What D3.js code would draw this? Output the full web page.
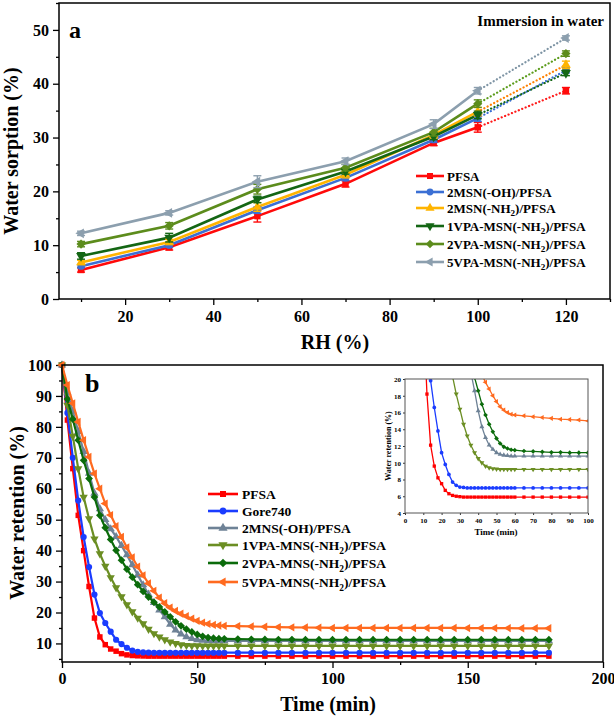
<!DOCTYPE html>
<html><head><meta charset="utf-8">
<script src="https://cdn.jsdelivr.net/npm/d3@7"></script>
<style>
body{margin:0;background:#fff}
svg{display:block}
text{font-family:"Liberation Serif","Times New Roman",serif;font-weight:bold;fill:#000}
</style>
</head><body>
<svg id="c" width="614" height="716"></svg>
<script>
// ---------------- DATA: panel a (water sorption) ----------------
const rhLevels = [10, 30, 50, 70, 90, 100, 120];
const sorpPFSA   = [5.4, 9.6, 15.4, 21.4, 29.0, 31.9, 38.7];
const sorpOH     = [6.1, 10.0, 16.5, 22.5, 29.6, 33.6, 42.5];
const sorpNH2    = [6.8, 10.6, 17.1, 23.1, 30.5, 34.8, 43.5];
const sorp1VPA   = [8.0, 11.4, 18.5, 23.7, 30.2, 34.2, 42.0];
const sorp2VPA   = [10.2, 13.6, 20.4, 24.4, 31.0, 36.3, 45.6];
const sorp5VPA   = [12.2, 16.0, 21.8, 25.6, 32.5, 38.7, 48.5];
const errPFSA = [0.4, 0.5, 1.1, 0.6, 0.5, 0.9, 0.6];
const errOH   = [0.3, 0.4, 0.6, 0.5, 0.5, 0.6, 0.5];
const errNH2  = [0.4, 0.5, 0.8, 0.6, 0.6, 0.8, 0.7];
const err1VPA = [0.6, 0.8, 0.6, 0.5, 0.6, 0.7, 0.5];
const err2VPA = [0.5, 0.6, 0.9, 0.6, 0.7, 0.7, 0.5];
const err5VPA = [0.4, 0.4, 1.1, 0.6, 0.8, 0.6, 0.4];
const seriesA = ["PFSA", "2MSN(-OH)/PFSA", "2MSN(-NH_2)/PFSA", "1VPA-MSN(-NH_2)/PFSA", "2VPA-MSN(-NH_2)/PFSA", "5VPA-MSN(-NH_2)/PFSA"];
const ticksAx = [20, 40, 60, 80, 100, 120];
const ticksAy = [0, 10, 20, 30, 40, 50];

// ---------------- DATA: panel b (water retention) ----------------
const times = [0,2,4,6,8,10,12,14,16,18,20,22,24,26,28,30,32,34,36,38,40,42,44,46,48,50,52,54,56,58,60,
  65,70,75,80,85,90,95,100,105,110,115,120,125,130,135,140,145,150,155,160,165,170,175,180];
const retPFSA = [100,82.2,66.5,51.4,40.0,28.4,18.2,12.1,9.6,8.2,7.5,6.7,6.3,6.1,6.0,5.95,5.9,5.9,5.9,5.9,5.9,5.9,5.9,5.9,5.9,5.9,5.9,5.9,5.9,5.9,5.9,
  5.9,5.9,5.9,5.9,5.9,5.9,5.9,5.9,5.9,5.9,5.9,5.9,5.9,5.9,5.9,5.9,5.9,5.9,5.9,5.9,5.9,5.9,5.9,5.9];
const retGore = [100,84.5,70.0,56.2,44.4,34.7,25.8,19.8,16.6,13.8,11.2,9.8,8.6,7.7,7.3,7.1,7.05,7.0,7.0,7.0,7.0,7.0,7.0,7.0,7.0,7.0,7.0,7.0,7.0,7.0,7.0,
  7.0,7.0,7.0,7.0,7.0,7.0,7.0,7.0,7.0,7.0,7.0,7.0,7.0,7.0,7.0,7.0,7.0,7.0,7.0,7.0,7.0,7.0,7.0,7.0];
const retOH = [100,91,85,78.5,72,65,58.5,53.5,50,47,44.5,41.6,38.6,35.4,32.1,28.9,25.9,23.2,20.8,18.6,16.2,14.3,13.0,12.1,11.6,11.2,11.0,10.9,10.85,10.8,10.8,
  10.8,10.8,10.8,10.8,10.8,10.8,10.8,10.8,10.8,10.8,10.8,10.8,10.8,10.8,10.8,10.8,10.8,10.8,10.8,10.8,10.8,10.8,10.8,10.8];
const ret1VPA = [100,87,77,66.5,57.3,50.3,43.8,39.0,35.0,31.3,28.0,25.1,22.5,20.3,18.2,16.4,14.6,13.2,12.1,11.2,10.5,10.0,9.6,9.4,9.3,9.25,9.2,9.2,9.2,9.2,9.2,
  9.2,9.2,9.2,9.2,9.2,9.2,9.2,9.2,9.2,9.2,9.2,9.2,9.2,9.2,9.2,9.2,9.2,9.2,9.2,9.2,9.2,9.2,9.2,9.2];
const ret2VPA = [100,89,82.5,75.7,69.2,63.3,57.3,51.4,47.4,43.6,40.1,36.9,34.0,31.4,29.0,26.8,25.0,23.3,21.8,20.2,18.6,17.0,15.7,14.6,13.7,12.9,12.3,11.9,11.7,11.55,11.5,
  11.4,11.35,11.3,11.25,11.25,11.2,11.2,11.2,11.2,11.2,11.2,11.2,11.2,11.2,11.2,11.2,11.2,11.2,11.2,11.2,11.2,11.2,11.2,11.2];
const ret5VPA = [100,93.5,87.6,81.6,75.7,70.3,64.9,60.0,55.2,51.5,47.9,44.4,41.0,37.8,34.8,32.0,29.4,27.0,24.8,23.0,21.6,20.5,19.6,18.8,18.0,17.3,16.7,16.3,16.0,15.8,15.7,
  15.6,15.5,15.4,15.3,15.2,15.15,15.1,15.0,15.0,15.0,15.0,15.0,15.0,15.0,15.0,15.0,15.0,14.95,14.95,14.95,14.95,14.9,14.9,14.9];
const seriesB = ["PFSA", "Gore740", "2MNS(-OH)/PFSA", "1VPA-MNS(-NH_2)/PFSA", "2VPA-MNS(-NH_2)/PFSA", "5VPA-MNS(-NH_2)/PFSA"];
const ticksBx = [0, 50, 100, 150, 200];
const ticksBy = [10, 20, 30, 40, 50, 60, 70, 80, 90, 100];
const ticksIx = [0,10,20,30,40,50,60,70,80,90,100];
const ticksIy = [4,6,8,10,12,14,16,18,20];

// ---------------- STYLE ----------------
const colA = ["#ff0a0a", "#3b6fd4", "#ffb400", "#146614", "#5c8c1c", "#8c9fae"];
const dotA = ["#ff1a1a", "#3b6fd4", "#ff8000", "#146614", "#5c9c1c", "#7f95a5"];
const colB = ["#ff0000", "#1a3cff", "#6e8296", "#6b8e23", "#0b6b0b", "#ff6a1f"];
const shapes = ["square", "circle", "up", "down", "diamond", "left"];

const svg = d3.select("#c");

function marker(g, shape, x, y, size, color) {
  const map = {square:[d3.symbolSquare,0], circle:[d3.symbolCircle,0], up:[d3.symbolTriangle,0],
    down:[d3.symbolTriangle,180], diamond:[d3.symbolSquare,45], left:[d3.symbolTriangle,-90]};
  const m = map[shape];
  g.append("path").attr("d", d3.symbol(m[0], size)())
    .attr("transform", `translate(${x},${y}) rotate(${m[1]})`).attr("fill", color);
}
function richText(sel, str, fs) {
  const parts = str.split(/_(\d)/);
  parts.forEach((p, i) => {
    if (i % 2 === 1) {
      sel.append("tspan").attr("font-size", fs * 0.7).attr("dy", fs * 0.3).text(p);
    } else if (p.length) {
      const t = sel.append("tspan").text(p);
      if (i > 0) t.attr("dy", -fs * 0.3);
    }
  });
}
function styleAxis(g, fs) {
  g.select(".domain").remove();
  g.selectAll("line").attr("stroke", "#000").attr("stroke-width", 1.3);
  g.selectAll("text").attr("font-size", fs).attr("font-family", "Liberation Serif, Times New Roman, serif").attr("font-weight", "bold").attr("fill", "#000");
}

// ================= PANEL A =================
const xA = d3.scaleLinear([5, 130], [59, 610]);
const yA = d3.scaleLinear([0, 55], [299, 3]);
const gA = svg.append("g");

gA.append("g").attr("transform", "translate(0,299)")
  .call(d3.axisBottom(xA).tickValues(ticksAx).tickSize(6).tickPadding(6)).call(g => styleAxis(g, 16));
gA.append("g").attr("transform", "translate(0,299)")
  .call(d3.axisBottom(xA).tickValues([10,30,50,70,90,110,130]).tickSize(3).tickFormat("")).call(g => styleAxis(g, 16));
gA.append("g").attr("transform", "translate(59,0)")
  .call(d3.axisLeft(yA).tickValues(ticksAy).tickSize(6).tickPadding(4)).call(g => styleAxis(g, 16));
gA.append("g").attr("transform", "translate(59,0)")
  .call(d3.axisLeft(yA).tickValues([5,15,25,35,45,55]).tickSize(3).tickFormat("")).call(g => styleAxis(g, 16));
gA.append("rect").attr("x", 59).attr("y", 3).attr("width", 551).attr("height", 296)
  .attr("fill", "none").attr("stroke", "#000").attr("stroke-width", 1.5);

const sorpAll = [sorpPFSA, sorpOH, sorpNH2, sorp1VPA, sorp2VPA, sorp5VPA];
const errAll = [errPFSA, errOH, errNH2, err1VPA, err2VPA, err5VPA];
const lineA = d3.line().x(d => xA(d[0])).y(d => yA(d[1]));
// dotted extensions 100 -> 120
sorpAll.forEach((s, k) => {
  gA.append("path").attr("d", lineA([[rhLevels[5], s[5]], [rhLevels[6], s[6]]]))
    .attr("stroke", dotA[k]).attr("stroke-width", 2.2).attr("fill", "none")
    .attr("stroke-dasharray", "0.1,3.6").attr("stroke-linecap", "round");
});
sorpAll.forEach((s, k) => {
  const pts = rhLevels.slice(0, 6).map((r, i) => [r, s[i]]);
  gA.append("path").attr("d", lineA(pts)).attr("stroke", colA[k]).attr("stroke-width", 2.6).attr("fill", "none");
});
sorpAll.forEach((s, k) => {
  rhLevels.forEach((r, i) => {
    const x = xA(r), e = errAll[k][i];
    const y1 = yA(s[i] - e), y2 = yA(s[i] + e);
    gA.append("line").attr("x1", x).attr("x2", x).attr("y1", y1).attr("y2", y2).attr("stroke", colA[k]).attr("stroke-width", 1.4);
    [y1, y2].forEach(yy => gA.append("line").attr("x1", x - 4).attr("x2", x + 4).attr("y1", yy).attr("y2", yy).attr("stroke", colA[k]).attr("stroke-width", 1.4));
    marker(gA, shapes[k], x, yA(s[i]), 42, colA[k]);
  });
});
// legend A
const legAy = [176, 192, 208, 226, 244, 262];
seriesA.forEach((name, k) => {
  const y = legAy[k];
  gA.append("line").attr("x1", 416).attr("x2", 444).attr("y1", y).attr("y2", y).attr("stroke", colA[k]).attr("stroke-width", 2.6);
  marker(gA, shapes[k], 430, y, 36, colA[k]);
  richText(gA.append("text").attr("x", 447).attr("y", y + 4.5).attr("font-size", 13), name, 13);
});
gA.append("text").attr("x", 69).attr("y", 38).attr("font-size", 24).text("a");
gA.append("text").attr("x", 604).attr("y", 26).attr("font-size", 15).attr("text-anchor", "end").text("Immersion in water");
gA.append("text").attr("x", 335).attr("y", 349).attr("font-size", 20).attr("text-anchor", "middle").text("RH (%)");
gA.append("text").attr("transform", "translate(18,151) rotate(-90)").attr("font-size", 20).attr("text-anchor", "middle").text("Water sorption (%)");

// ================= PANEL B =================
const xB = d3.scaleLinear([0, 200], [62, 603]);
const yB = d3.scaleLinear([4, 100], [662, 365]);
const gB = svg.append("g");
gB.append("g").attr("transform", "translate(0,662)")
  .call(d3.axisBottom(xB).tickValues(ticksBx).tickSize(6).tickPadding(5)).call(g => styleAxis(g, 16));
gB.append("g").attr("transform", "translate(0,662)")
  .call(d3.axisBottom(xB).tickValues([25,75,125,175]).tickSize(3).tickFormat("")).call(g => styleAxis(g, 16));
gB.append("g").attr("transform", "translate(62,0)")
  .call(d3.axisLeft(yB).tickValues(ticksBy).tickSize(6).tickPadding(4)).call(g => styleAxis(g, 16));
gB.append("g").attr("transform", "translate(62,0)")
  .call(d3.axisLeft(yB).tickValues([5,15,25,35,45,55,65,75,85,95]).tickSize(3).tickFormat("")).call(g => styleAxis(g, 16));

const retAll = [retPFSA, retGore, retOH, ret1VPA, ret2VPA, ret5VPA];
const lineB = d3.line().x((d, i) => xB(times[i])).y(d => yB(d));
retAll.forEach((s, k) => {
  gB.append("path").attr("d", lineB(s)).attr("stroke", colB[k]).attr("stroke-width", 2.2).attr("fill", "none");
  s.forEach((v, i) => marker(gB, shapes[k], xB(times[i]), yB(v), 30, colB[k]));
});
gB.append("rect").attr("x", 62).attr("y", 365).attr("width", 541).attr("height", 297)
  .attr("fill", "none").attr("stroke", "#000").attr("stroke-width", 1.5);

// legend B
const legBy = [494, 511, 528, 545, 563, 582];
seriesB.forEach((name, k) => {
  const y = legBy[k];
  gB.append("line").attr("x1", 208).attr("x2", 238).attr("y1", y).attr("y2", y).attr("stroke", colB[k]).attr("stroke-width", 2.6);
  marker(gB, shapes[k], 223, y, 36, colB[k]);
  richText(gB.append("text").attr("x", 242).attr("y", y + 4.5).attr("font-size", 13.5), name, 13.5);
});
gB.append("text").attr("x", 85).attr("y", 392).attr("font-size", 26).text("b");
gB.append("text").attr("x", 328).attr("y", 711).attr("font-size", 20).attr("text-anchor", "middle").text("Time (min)");
gB.append("text").attr("transform", "translate(24,513) rotate(-90)").attr("font-size", 20).attr("text-anchor", "middle").text("Water retention (%)");

// ================= INSET =================
const xI = d3.scaleLinear([0, 100], [405, 588]);
const yI = d3.scaleLinear([4, 20], [513, 379]);
const gI = svg.append("g");
gI.append("defs").append("clipPath").attr("id", "clipI").append("rect")
  .attr("x", 405).attr("y", 379).attr("width", 183).attr("height", 134);
gI.append("g").attr("transform", "translate(0,513)")
  .call(d3.axisBottom(xI).tickValues(ticksIx).tickSize(2).tickPadding(3)).call(g => styleAxis(g, 7));
gI.append("g").attr("transform", "translate(405,0)")
  .call(d3.axisLeft(yI).tickValues(ticksIy).tickSize(2).tickPadding(2)).call(g => styleAxis(g, 7));
gI.selectAll("line").attr("stroke-width", 0.8);
const gIc = gI.append("g").attr("clip-path", "url(#clipI)");
const lineI = d3.line().x((d, i) => xI(times[i])).y(d => yI(d));
retAll.forEach((s, k) => {
  gIc.append("path").attr("d", lineI(s)).attr("stroke", colB[k]).attr("stroke-width", 1.3).attr("fill", "none");
  s.forEach((v, i) => { if (times[i] <= 100 && v <= 20.5) marker(gIc, shapes[k], xI(times[i]), yI(v), 11, colB[k]); });
});
gI.append("rect").attr("x", 405).attr("y", 379).attr("width", 183).attr("height", 134)
  .attr("fill", "none").attr("stroke", "#555").attr("stroke-width", 1);
gI.append("text").attr("x", 496).attr("y", 535).attr("font-size", 9).attr("text-anchor", "middle").text("Time (min)");
gI.append("text").attr("transform", "translate(391,446) rotate(-90)").attr("font-size", 8).attr("text-anchor", "middle").text("Water retention (%)");
</script>
</body></html>
